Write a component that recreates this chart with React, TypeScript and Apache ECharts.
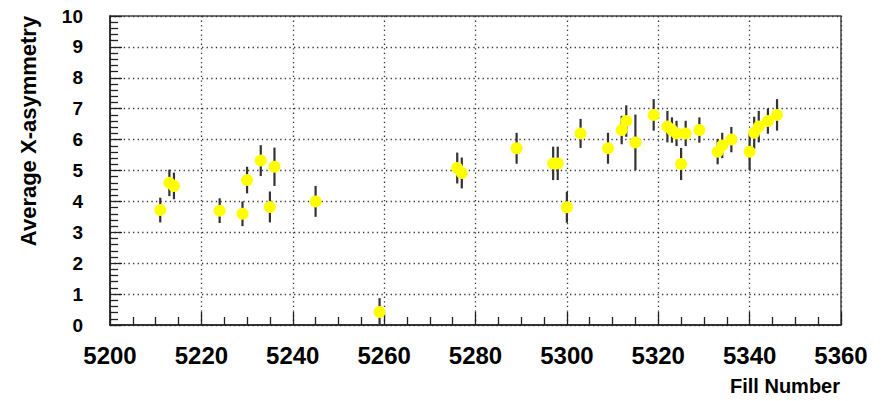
import React, { useEffect, useRef } from "react";
import * as echarts from "echarts";

const fills = [5211, 5213, 5214, 5224, 5229, 5230, 5233, 5235, 5236, 5245, 5259, 5276, 5277, 5289, 5297, 5298, 5300, 5303, 5309, 5312, 5313, 5315, 5319, 5322, 5323, 5324, 5325, 5326, 5329, 5333, 5334, 5336, 5340, 5341, 5342, 5344, 5346];
const asym = [3.72, 4.6, 4.5, 3.7, 3.6, 4.69, 5.32, 3.82, 5.12, 4.0, 0.42, 5.08, 4.92, 5.72, 5.23, 5.23, 3.81, 6.2, 5.72, 6.31, 6.6, 5.91, 6.8, 6.42, 6.31, 6.2, 5.21, 6.2, 6.31, 5.61, 5.81, 6.0, 5.61, 6.22, 6.42, 6.6, 6.8];
const errs = [0.4, 0.43, 0.43, 0.4, 0.4, 0.43, 0.5, 0.5, 0.62, 0.5, 0.45, 0.5, 0.5, 0.5, 0.54, 0.54, 0.5, 0.47, 0.5, 0.46, 0.51, 0.9, 0.51, 0.51, 0.41, 0.41, 0.52, 0.41, 0.41, 0.41, 0.41, 0.41, 0.6, 0.52, 0.51, 0.41, 0.51];

const xTitle = "Fill Number";
const yTitle = "Average X-asymmetry";

const FONT = "Liberation Sans, Arial, Helvetica, sans-serif";

export default function App() {
  const ref = useRef<HTMLDivElement>(null);
  useEffect(() => {
    if (!ref.current) return;
    const chart = echarts.init(ref.current, null, { renderer: "svg" });
    const points = fills.map((f, i) => [f, asym[i]]);
    const errData = fills.map((f, i) => [f, asym[i] - errs[i], asym[i] + errs[i]]);
    const gridLine = { show: true, lineStyle: { color: "#333", width: 1.3, type: [1.3, 3.3] as any } };
    chart.setOption({
      animation: false,
      backgroundColor: "#ffffff",
      grid: { left: 110, right: 49, top: 16, bottom: 76, show: true, borderColor: "#444", borderWidth: 1.5, backgroundColor: "transparent" },
      xAxis: {
        type: "value",
        min: 5200,
        max: 5360,
        interval: 20,
        axisLine: { show: true, onZero: false, lineStyle: { color: "#222", width: 1.5 } },
        axisTick: { show: true, inside: true, length: 13, lineStyle: { color: "#222", width: 1.3 } },
        minorTick: { show: true, splitNumber: 4, length: 8, lineStyle: { color: "#222", width: 1.3 } },
        axisLabel: {
          margin: 18,
          fontSize: 24,
          fontWeight: "bold",
          color: "#000",
          fontFamily: FONT,
          formatter: (v: number) => String(v),
        },
        splitLine: gridLine,
      },
      yAxis: {
        type: "value",
        min: 0,
        max: 10,
        interval: 1,
        axisLine: { show: true, onZero: false, lineStyle: { color: "#222", width: 1.5 } },
        axisTick: { show: true, inside: true, length: 12, lineStyle: { color: "#222", width: 1.3 } },
        minorTick: { show: true, splitNumber: 5, length: 8, lineStyle: { color: "#222", width: 1.3 } },
        axisLabel: {
          margin: 27,
          fontSize: 19,
          fontWeight: "bold",
          color: "#000",
          fontFamily: FONT,
        },
        splitLine: gridLine,
      },
      graphic: [
        {
          type: "text",
          right: 50,
          top: 376,
          style: {
            text: xTitle,
            fontSize: 20,
            fontWeight: "bold",
            fill: "#000",
            fontFamily: FONT,
          },
        },
        {
          type: "text",
          x: 28,
          y: 131,
          rotation: Math.PI / 2,
          style: {
            text: yTitle,
            fontSize: 22,
            fontWeight: "bold",
            fill: "#000",
            align: "center",
            verticalAlign: "middle",
            fontFamily: FONT,
          },
        },
      ],
      series: [
        {
          type: "custom",
          data: errData,
          encode: { x: 0, y: [1, 2] },
          renderItem: (params: any, api: any) => {
            const lo = api.coord([api.value(0), api.value(1)]);
            const hi = api.coord([api.value(0), api.value(2)]);
            return {
              type: "line",
              shape: { x1: lo[0], y1: lo[1], x2: hi[0], y2: hi[1] },
              style: { stroke: "#333", lineWidth: 2.2 },
            };
          },
          z: 2,
        },
        {
          type: "scatter",
          data: points,
          symbol: "circle",
          symbolSize: 12,
          itemStyle: { color: "#ffff00", opacity: 1 },
          z: 3,
        },
      ],
    });
    return () => chart.dispose();
  }, []);
  return <div ref={ref} style={{ width: 890, height: 401, marginLeft: -8, marginTop: -8 }} />;
}
